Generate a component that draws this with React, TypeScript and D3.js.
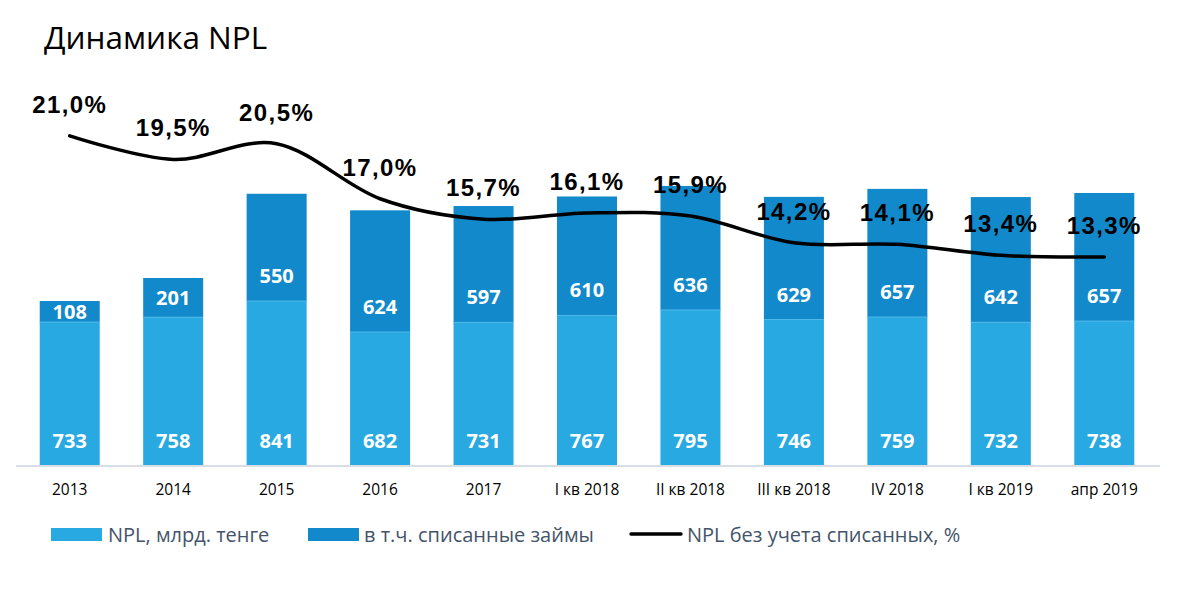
import * as d3 from 'd3';

const categories = ['2013', '2014', '2015', '2016', '2017', 'I кв 2018', 'II кв 2018', 'III кв 2018', 'IV 2018', 'I кв 2019', 'апр 2019'];
const nplValues = [733, 758, 841, 682, 731, 767, 795, 746, 759, 732, 738];
const writtenOff = [108, 201, 550, 624, 597, 610, 636, 629, 657, 642, 657];
const nplExclPct = [21.0, 19.5, 20.5, 17.0, 15.7, 16.1, 15.9, 14.2, 14.1, 13.4, 13.3];
const legendLabels = ['NPL, млрд. тенге', 'в т.ч. списанные займы', 'NPL без учета списанных, %'];

const W = 1183;
const H = 596;
const LIGHT = '#29a9e1';
const DARK = '#1189cb';
const textFont = '"Open Sans", sans-serif';

export default function App() {
  const x = d3.scaleBand<string>().domain(categories).range([18, 1156]).paddingInner(0.42).paddingOuter(0.21);
  const y = d3.scaleLinear().domain([0, 1500]).range([465, 172.5]);
  const yPct = d3.scaleLinear().domain([0, 25]).range([466, 73]);

  const cx = (i: number) => (x(categories[i]) ?? 0) + x.bandwidth() / 2;

  const line = d3
    .line<number>()
    .x((_, i) => cx(i))
    .y(d => yPct(d))
    .curve(d3.curveCardinal);

  const fmtPct = (v: number) => v.toFixed(1).replace('.', ',') + '%';

  return (
    <svg width={W} height={H} style={{ position: 'absolute', left: 0, top: 0, background: '#fff' }}>
      <text x={44} y={49} fontFamily={textFont} fontSize={31.5} fill="#000">Динамика NPL</text>

      {/* bars */}
      {categories.map((c, i) => {
        const x0 = x(c) ?? 0;
        const base = y(0);
        const lightTop = y(nplValues[i]);
        const darkTop = y(nplValues[i] + writtenOff[i]);
        const darkLabelY = Math.max(lightTop - 25, (lightTop + darkTop) / 2);
        return (
          <g key={c}>
            <rect x={x0} y={lightTop} width={x.bandwidth()} height={base - lightTop} fill={LIGHT} />
            <rect x={x0} y={darkTop} width={x.bandwidth()} height={lightTop - darkTop} fill={DARK} />
            <line x1={x0} x2={x0 + x.bandwidth()} y1={lightTop} y2={lightTop} stroke="#4fb8e8" strokeWidth={1} />
            <text x={cx(i)} y={base - 24} dy="0.35em" textAnchor="middle" fontFamily={textFont} fontWeight={700} fontSize={20} fill="#fff">
              {nplValues[i]}
            </text>
            <text x={cx(i)} y={darkLabelY} dy="0.35em" textAnchor="middle" fontFamily={textFont} fontWeight={700} fontSize={20} fill="#fff">
              {writtenOff[i]}
            </text>
          </g>
        );
      })}

      {/* axis line */}
      <line x1={16} x2={1160} y1={466} y2={466} stroke="#d9dee6" strokeWidth={2} />

      {/* x labels */}
      {categories.map((c, i) => (
        <text key={c} x={cx(i)} y={495} textAnchor="middle" fontFamily={textFont} fontSize={15.5} fill="#000">{c}</text>
      ))}

      {/* NPL excl. written off line */}
      <path d={line(nplExclPct) ?? ''} fill="none" stroke="#000" strokeWidth={3.5} strokeLinecap="round" />
      {nplExclPct.map((v, i) => (
        <text key={i} x={cx(i)} y={yPct(v) - 23} textAnchor="middle" fontFamily='"Liberation Sans", Arial, sans-serif' fontWeight={700} fontSize={24} letterSpacing={1.4} fill="#000">
          {fmtPct(v)}
        </text>
      ))}

      {/* legend */}
      <rect x={51} y={528} width={51} height={13} fill={LIGHT} />
      <text x={108} y={542} fontFamily={textFont} fontSize={20} fill="#44546a">{legendLabels[0]}</text>
      <rect x={308} y={528} width={51} height={13} fill={DARK} />
      <text x={364} y={542} fontFamily={textFont} fontSize={20} fill="#44546a">{legendLabels[1]}</text>
      <line x1={631} x2={681} y1={534} y2={534} stroke="#000" strokeWidth={3.5} strokeLinecap="round" />
      <text x={687} y={542} fontFamily={textFont} fontSize={20} fill="#44546a">{legendLabels[2]}</text>
    </svg>
  );
}
